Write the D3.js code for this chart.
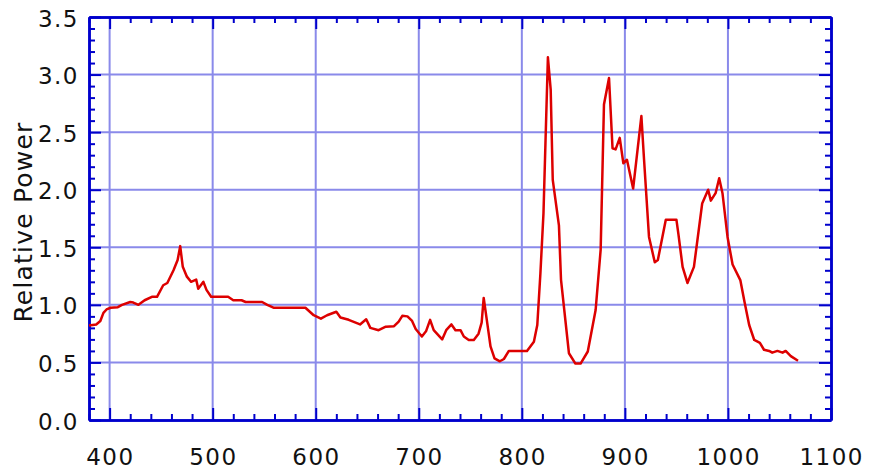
<!DOCTYPE html>
<html>
<head>
<meta charset="utf-8">
<script src="https://cdn.jsdelivr.net/npm/d3@7/dist/d3.min.js"></script>
<style>
  html, body { margin: 0; padding: 0; background: #ffffff; }
  svg { display: block; }
</style>
</head>
<body>
<svg id="chart" width="870" height="474"></svg>
<script>
// ---- Data ----
const wavelength = [380, 387, 391, 394, 397, 401, 408, 412, 420, 423, 428, 434, 441, 446, 452, 456, 462, 466, 468.5, 471, 475, 479, 484, 486, 491, 494, 498.5,
  515, 520, 528, 532, 548, 553, 559, 590, 598, 605, 611, 620, 624, 632, 643, 649, 653, 661, 668, 676, 680.5, 684, 689, 693.5, 697,
  703, 707, 711, 714.5, 722.7, 726.6, 731.7, 735.6, 740.5, 743.7, 748.5, 753.4, 758, 761, 763, 766, 769.6, 773.5, 778.7, 782.6,
  787.4, 805, 811.7, 815, 818, 821, 823, 825.3, 828, 830, 836, 838, 845.7, 852, 857, 864, 871.6, 876.5, 879.7, 884.6, 888, 891,
  895, 898.5, 902, 908, 916, 918.6, 923.4, 929, 932, 939.7, 950, 952, 956, 960.7, 967, 975, 980.8, 983.4, 988, 991.5, 994.7,
  999.6, 1004.5, 1012, 1016, 1020.6, 1025.5, 1031, 1035, 1040, 1043, 1048, 1053, 1056, 1061, 1068];
const power = [0.82, 0.83, 0.86, 0.93, 0.96, 0.975, 0.98, 1.00, 1.025, 1.02, 1.00, 1.04, 1.07, 1.07, 1.17, 1.19, 1.30, 1.39, 1.51, 1.33, 1.245, 1.20, 1.22, 1.14, 1.20, 1.13, 1.07,
  1.07, 1.04, 1.04, 1.025, 1.025, 1.00, 0.975, 0.975, 0.91, 0.88, 0.91, 0.94, 0.89, 0.87, 0.83, 0.875, 0.80, 0.78, 0.81, 0.815, 0.855, 0.905, 0.90, 0.86, 0.79,
  0.725, 0.77, 0.87, 0.78, 0.70, 0.78, 0.83, 0.78, 0.78, 0.725, 0.695, 0.695, 0.75, 0.845, 1.06, 0.87, 0.64, 0.535, 0.51, 0.53,
  0.60, 0.60, 0.68, 0.825, 1.27, 1.795, 2.43, 3.15, 2.87, 2.085, 1.69, 1.22, 0.58, 0.49, 0.49, 0.595, 0.955, 1.48, 2.74, 2.97, 2.36, 2.35,
  2.45, 2.23, 2.26, 2.01, 2.64, 2.26, 1.59, 1.37, 1.39, 1.74, 1.74, 1.61, 1.33, 1.19, 1.33, 1.88, 2.00, 1.905, 1.97, 2.10, 1.97,
  1.59, 1.35, 1.215, 1.03, 0.825, 0.695, 0.67, 0.61, 0.60, 0.585, 0.60, 0.585, 0.60, 0.555, 0.515];

const xMajorTicks = [400, 500, 600, 700, 800, 900, 1000, 1100];
const xTickLabels = ["400", "500", "600", "700", "800", "900", "1000", "1100"];
const yMajorTicks = [0.0, 0.5, 1.0, 1.5, 2.0, 2.5, 3.0, 3.5];
const yTickLabels = ["0.0", "0.5", "1.0", "1.5", "2.0", "2.5", "3.0", "3.5"];
const xDomain = [380, 1100];
const yDomain = [0, 3.5];
const yTitle = "Relative Power";

// ---- Layout ----
const mLeft = 89, mRight = 831, mTop = 17, mBottom = 420;
const axisColor = "#0000cc", gridColor = "#8a8aea", lineColor = "#dd0000";

const svg = d3.select("#chart");
const x = d3.scaleLinear().domain(xDomain).range([mLeft, mRight]);
const y = d3.scaleLinear().domain(yDomain).range([mBottom, mTop]);

// Grid
const xGrid = xMajorTicks.filter(v => v > xDomain[0] && v < xDomain[1]);
const yGrid = yMajorTicks.filter(v => v > yDomain[0] && v < yDomain[1]);
svg.append("g").selectAll("line").data(xGrid).join("line")
  .attr("x1", d => x(d)).attr("x2", d => x(d)).attr("y1", mTop).attr("y2", mBottom)
  .attr("stroke", gridColor).attr("stroke-width", 2);
svg.append("g").selectAll("line").data(yGrid).join("line")
  .attr("y1", d => y(d)).attr("y2", d => y(d)).attr("x1", mLeft).attr("x2", mRight)
  .attr("stroke", gridColor).attr("stroke-width", 2);

// Axes with inward ticks on all four sides
const xMinor = d3.range(380, 1100.01, 20).filter(v => !xMajorTicks.includes(v));
const yMinor = d3.range(0, 36).map(i => i / 10).filter(v => Math.abs(v * 2 - Math.round(v * 2)) > 1e-6);

function addAxis(axisGen, tx, ty) {
  const g = svg.append("g").attr("transform", `translate(${tx},${ty})`).call(axisGen);
  g.selectAll("text").remove();
  g.select(".domain").attr("stroke", axisColor).attr("stroke-width", 2.5);
  g.selectAll(".tick line").attr("stroke", axisColor).attr("stroke-width", 2);
  return g;
}
// bottom
addAxis(d3.axisTop(x).tickValues(xMajorTicks).tickSize(12).tickSizeOuter(0), 0, mBottom);
addAxis(d3.axisTop(x).tickValues(xMinor).tickSize(6).tickSizeOuter(0), 0, mBottom);
// top
addAxis(d3.axisBottom(x).tickValues(xMajorTicks).tickSize(12).tickSizeOuter(0), 0, mTop);
addAxis(d3.axisBottom(x).tickValues(xMinor).tickSize(6).tickSizeOuter(0), 0, mTop);
// left
addAxis(d3.axisRight(y).tickValues(yMajorTicks).tickSize(12).tickSizeOuter(0), mLeft, 0);
addAxis(d3.axisRight(y).tickValues(yMinor).tickSize(6).tickSizeOuter(0), mLeft, 0);
// right
addAxis(d3.axisLeft(y).tickValues(yMajorTicks).tickSize(12).tickSizeOuter(0), mRight, 0);
addAxis(d3.axisLeft(y).tickValues(yMinor).tickSize(6).tickSizeOuter(0), mRight, 0);

// Tick labels
const fontFam = "'DejaVu Sans', Verdana, sans-serif";
svg.append("g").selectAll("text").data(xMajorTicks).join("text")
  .attr("x", d => x(d) + 0.75).attr("y", 465)
  .attr("text-anchor", "middle")
  .attr("font-family", fontFam).attr("font-size", 23)
  .attr("letter-spacing", 1.5).attr("fill", "#111")
  .text((d, i) => xTickLabels[i]);
svg.append("g").selectAll("text").data(yMajorTicks).join("text")
  .attr("x", 79).attr("y", d => y(d) + 9.5)
  .attr("text-anchor", "end")
  .attr("font-family", fontFam).attr("font-size", 23)
  .attr("letter-spacing", 1.5).attr("fill", "#111")
  .text((d, i) => yTickLabels[i]);

// Y title
svg.append("text")
  .attr("transform", "translate(32,222) rotate(-90)")
  .attr("text-anchor", "middle")
  .attr("font-family", fontFam).attr("font-size", 25)
  .attr("letter-spacing", 1.2).attr("fill", "#111")
  .text(yTitle);

// Line
const pts = wavelength.map((w, i) => [w, power[i]]);
svg.append("path").datum(pts)
  .attr("fill", "none").attr("stroke", lineColor).attr("stroke-width", 2.5)
  .attr("stroke-linejoin", "round")
  .attr("d", d3.line().x(d => x(d[0])).y(d => y(d[1])));
</script>
</body>
</html>
